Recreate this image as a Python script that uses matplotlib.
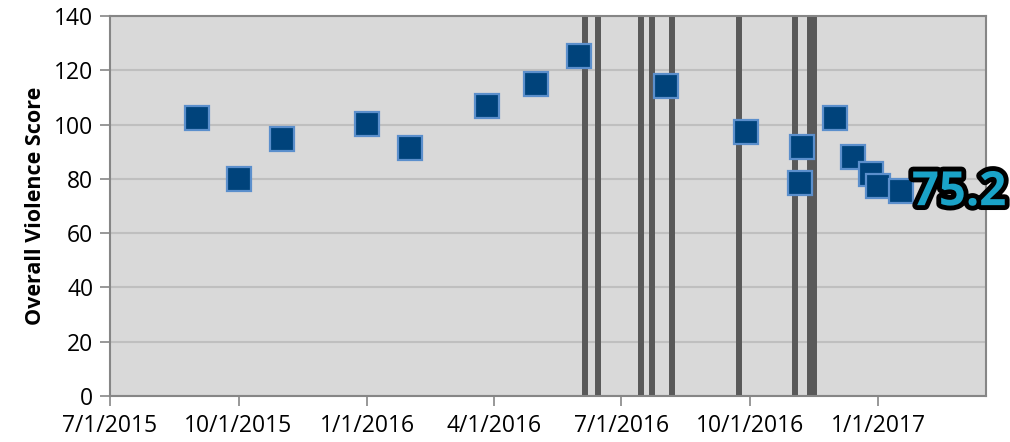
import matplotlib
matplotlib.use("Agg")
import matplotlib.pyplot as plt
import matplotlib.patheffects as pe
import pandas as pd

# survey dates and scores
dates = ["2015-09-01", "2015-10-01", "2015-11-01", "2016-01-01", "2016-02-01",
         "2016-03-27", "2016-05-01", "2016-06-01", "2016-08-02", "2016-09-28",
         "2016-11-07", "2016-11-06", "2016-12-01", "2016-12-14", "2016-12-27",
         "2017-01-01", "2017-01-17"]
scores = [102.5, 79.9, 94.8, 100.1, 91.5,
          106.9, 115.1, 125.3, 114.2, 97.3,
          91.7, 78.4, 102.4, 88.2, 81.7,
          77.2, 75.4]

# event markers (vertical bars)
events = ["2016-06-05", "2016-06-14", "2016-07-15", "2016-07-23", "2016-08-06",
          "2016-09-23", "2016-11-02", "2016-11-13", "2016-11-16"]

tick_dates = ["2015-07-01", "2015-10-01", "2016-01-01", "2016-04-01",
              "2016-07-01", "2016-10-01", "2017-01-01"]
tick_labels = ["7/1/2015", "10/1/2015", "1/1/2016", "4/1/2016",
               "7/1/2016", "10/1/2016", "1/1/2017"]
last_label = "75.2"

plt.rcParams['font.family'] = ['Open Sans', 'DejaVu Sans']

fig = plt.figure(figsize=(10.1, 4.42), dpi=100)
ax = fig.add_axes([0.1089, 0.104, 0.8673, 0.860])
ax.set_facecolor("#d9d9d9")

x = pd.to_datetime(dates)
ax.set_xlim(pd.Timestamp("2015-07-01"), pd.Timestamp("2017-03-19"))
ax.set_ylim(0, 140)
ax.set_yticks(range(0, 141, 20))
ax.grid(axis="y", color="#bfbfbf", linewidth=1.5)
ax.set_axisbelow(True)

for d in events:
    ax.axvline(pd.Timestamp(d), color="#595959", linewidth=4.3, zorder=2)

ax.plot(x, scores, linestyle="none", marker="s", markersize=17.5,
        markerfacecolor="#00437b", markeredgecolor="#5b8fcc",
        markeredgewidth=1.6, zorder=3)

ax.text(x[-1] + pd.Timedelta(days=8), scores[-1] - 0.5, last_label,
        fontsize=34, fontweight="bold", color="#1aa3c8", va="center",
        ha="left", zorder=4, clip_on=False,
        path_effects=[pe.withStroke(linewidth=7, foreground="black")])

ax.set_xticks(pd.to_datetime(tick_dates))
ax.set_xticklabels(tick_labels)
ax.tick_params(axis="both", labelsize=16.5, colors="#000000", length=7,
               width=1.2, color="#868686")
ax.tick_params(axis="x", pad=6)
ax.tick_params(axis="y", pad=5)

for s in ax.spines.values():
    s.set_color("#868686")
    s.set_linewidth(1.5)

ax.set_ylabel("Overall Violence Score", fontsize=15.5, fontweight="bold",
              labelpad=6)

fig.savefig("out.png", dpi=100)
